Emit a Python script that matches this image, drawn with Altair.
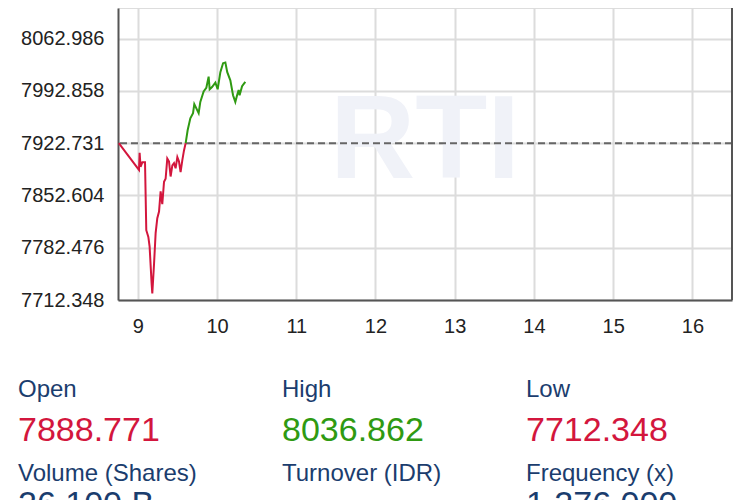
import altair as alt
import pandas as pd

# ---- data ----
times = [8.76, 9.00, 9.015, 9.023, 9.035, 9.057, 9.091, 9.107, 9.133, 9.149, 9.174, 9.183,
         9.205, 9.225, 9.246, 9.268, 9.288, 9.309, 9.331, 9.351, 9.372, 9.394, 9.414, 9.436,
         9.457, 9.477, 9.499, 9.520, 9.540, 9.562, 9.583, 9.604,
         9.629, 9.663, 9.697, 9.713, 9.768, 9.789, 9.831, 9.865, 9.894, 9.907, 9.937, 9.979,
         10.008, 10.042, 10.076, 10.105, 10.129, 10.168, 10.202, 10.231, 10.253, 10.273,
         10.285, 10.316, 10.357]
values = [7922.731, 7888.771, 7886.7, 7909.9, 7891.0, 7897.0, 7897.0, 7806.0, 7797.0, 7784.0,
          7735.0, 7721.0, 7761.0, 7802.0, 7822.0, 7831.0, 7858.0, 7841.0, 7871.0, 7875.0,
          7902.0, 7898.0, 7878.0, 7893.0, 7896.0, 7889.0, 7904.0, 7898.0, 7884.0, 7900.0,
          7913.0, 7922.731,
          7940.0, 7956.0, 7963.0, 7975.0, 7963.0, 7978.0, 7992.0, 7997.0, 8012.0, 7995.0,
          7998.0, 8004.0, 7995.0, 8018.0, 8030.0, 8031.0, 8018.0, 8007.0, 7987.0, 7978.0,
          7987.0, 7994.0, 7987.0, 7999.0, 8005.0]
prev_close = 7922.731
y_ticks = [7712.348, 7782.476, 7852.604, 7922.731, 7992.858, 8062.986]
x_ticks = [9, 10, 11, 12, 13, 14, 15, 16]
x_domain = [8.75, 16.5]
y_domain = [7712.348, 8104.0]

stat_labels = ["Open", "High", "Low", "Volume (Shares)", "Turnover (IDR)", "Frequency (x)"]
stat_values = ["7888.771", "8036.862", "7712.348", "26,100 B", "", "1,276,000"]
stat_colors = ["#d3163d", "#2f9a12", "#d3163d", "#1b3d6e", "#1b3d6e", "#1b3d6e"]

RED = "#d3163d"
GREEN = "#2f9a12"
NAVY = "#1b3d6e"
FONT = "Liberation Sans"

# split into below / above previous close at the crossing point
cross = times.index(9.604)
rows = []
for i, (t, v) in enumerate(zip(times, values)):
    if i <= cross:
        rows.append({"t": t, "v": v, "s": "down"})
    if i >= cross:
        rows.append({"t": t, "v": v, "s": "up"})
df = pd.DataFrame(rows)

W, H = 614, 292

xs = alt.Scale(domain=x_domain, nice=False, zero=False)
ys = alt.Scale(domain=y_domain, nice=False, zero=False)

x_axis = alt.Axis(values=x_ticks, grid=True, gridColor="#dcdcdc", gridWidth=2,
                  ticks=False, domainColor="#555555", domainWidth=2,
                  labelFont=FONT, labelFontSize=20, labelColor="#222222",
                  labelPadding=16, title=None, format="d")
y_axis = alt.Axis(values=y_ticks, grid=True, gridColor="#dcdcdc", gridWidth=2,
                  ticks=False, domainColor="#555555", domainWidth=2,
                  labelFont=FONT, labelFontSize=20, labelColor="#222222",
                  labelPadding=14, title=None, format=".3f")

# watermark
wm = alt.Chart(pd.DataFrame({"w": ["RTI"]})).mark_text(
    font=FONT, fontSize=118, fontWeight="bold", color="#f0f2f8",
    align="center", baseline="middle"
).encode(x=alt.value(307), y=alt.value(135), text="w:N")

line = alt.Chart(df).mark_line(strokeWidth=2, clip=True).encode(
    x=alt.X("t:Q", scale=xs, axis=x_axis),
    y=alt.Y("v:Q", scale=ys, axis=y_axis),
    color=alt.Color("s:N", scale=alt.Scale(domain=["down", "up"], range=[RED, GREEN]), legend=None),
    detail="s:N",
)

base_rule = alt.Chart(pd.DataFrame({"p": [prev_close]})).mark_rule(
    color="#666666", strokeWidth=2, strokeDash=[7, 4]
).encode(y=alt.Y("p:Q", scale=ys))

right_border = alt.Chart(pd.DataFrame({"r": [0]})).mark_rule(
    color="#555555", strokeWidth=2
).encode(x=alt.value(W), y=alt.value(0), y2=alt.value(H))

layers = [wm, base_rule, line, right_border]

col_x = [-100, 164, 408]
for i, (lab, val, col) in enumerate(zip(stat_labels, stat_values, stat_colors)):
    row = i // 3
    cx = col_x[i % 3]
    ly = 382 if row == 0 else 466
    vy = 423 if row == 0 else 497
    layers.append(alt.Chart(pd.DataFrame({"k": [lab]})).mark_text(
        font=FONT, fontSize=24, color=NAVY, align="left", baseline="middle"
    ).encode(x=alt.value(cx), y=alt.value(ly), text="k:N"))
    if val:
        layers.append(alt.Chart(pd.DataFrame({"k": [val]})).mark_text(
            font=FONT, fontSize=34, color=col, align="left", baseline="middle"
        ).encode(x=alt.value(cx), y=alt.value(vy), text="k:N"))

chart = alt.layer(*layers).properties(
    width=W, height=H,
    autosize=alt.AutoSizeParams(type="none"),
    padding={"left": 110, "top": 0, "right": 10, "bottom": 200},
).configure_view(stroke=None).configure(background="white")

chart.save("out.html", embed_options={"renderer": "svg", "actions": False})
